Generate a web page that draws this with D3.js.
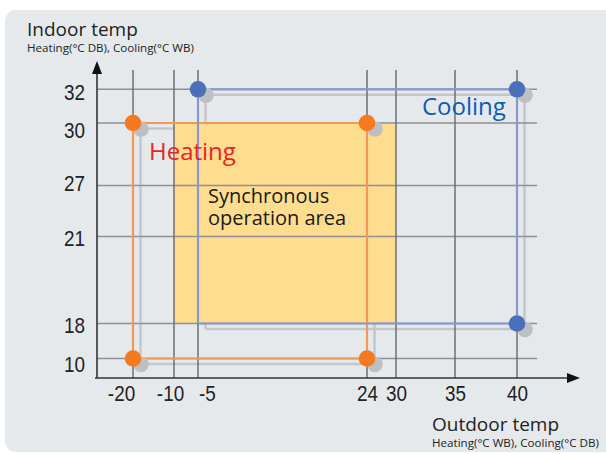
<!DOCTYPE html>
<html>
<head>
<meta charset="utf-8">
<script src="https://cdn.jsdelivr.net/npm/d3@7"></script>
<style>
  html, body { margin: 0; padding: 0; background: #ffffff; }
  svg { display: block; }
  .tick text { font-family: "Liberation Sans", "DejaVu Sans", sans-serif; }
  .lbl { font-family: "Open Sans", "Noto Sans", sans-serif; }
</style>
</head>
<body>
<svg id="chart" width="606" height="454"></svg>
<script>
// Axis tick values (outdoor temp on x, indoor temp on y)
const xTicks = [-20, -10, -5, 24, 30, 35, 40];
const yTicks = [10, 18, 21, 27, 30, 32];

// Operating ranges: [xMin, xMax] outdoor, [yMin, yMax] indoor
const heatingX = [-20, 24];
const heatingY = [10, 30];
const coolingX = [-5, 40];
const coolingY = [18, 32];
const syncX = [-10, 30];
const syncY = [18, 30];

// Corner points marked on each range
const heatingCorners = [[-20, 30], [24, 30], [-20, 10], [24, 10]];
const coolingCorners = [[-5, 32], [40, 32], [40, 18]];

const svg = d3.select("#chart");

// Panel background
svg.append("rect")
  .attr("x", 5).attr("y", 10).attr("width", 612).attr("height", 442)
  .attr("rx", 11).attr("fill", "#e6e9ec");

// Piecewise (non-uniform) scales: ticks are spaced for readability, not linearly
const x = d3.scaleLinear()
  .domain(xTicks)
  .range([133, 174, 198, 367, 396, 455, 517]);
const y = d3.scaleLinear()
  .domain(yTicks)
  .range([358.5, 323.5, 236.5, 185.5, 123, 89.3]);

const x0 = 97, y0 = 378;        // axis origin
const gridTop = 70, gridRight = 537;
const shadow = [7.5, 5.5];      // drop-shadow offset of range outlines
const dotShadow = [8, 6];

const rectPath = (xs, ys) => {
  const l = x(xs[0]), r = x(xs[1]), t = y(ys[1]), b = y(ys[0]);
  return `M${l},${t}H${r}V${b}H${l}Z`;
};
const coolPath = (xs, ys) => {
  const l = x(xs[0]), r = x(xs[1]), t = y(ys[1]), b = y(ys[0]);
  return `M${l},${b}V${t}H${r}V${b}H${l}`;
};

// Shadows of the range outlines
const sh = svg.append("g").attr("transform", `translate(${shadow[0]},${shadow[1]})`)
  .attr("fill", "none").attr("stroke", "#c3c6ca").attr("stroke-width", 2.5);
sh.append("path").attr("d", rectPath(heatingX, heatingY));
sh.append("path").attr("d", coolPath(coolingX, coolingY));

// Synchronous operation area
svg.append("rect")
  .attr("x", x(syncX[0])).attr("y", y(syncY[1]))
  .attr("width", x(syncX[1]) - x(syncX[0]))
  .attr("height", y(syncY[0]) - y(syncY[1]))
  .attr("fill", "#fedd8f");

// Grid lines
svg.append("g").selectAll("line").data(yTicks).join("line")
  .attr("x1", x0).attr("x2", gridRight)
  .attr("y1", d => y(d)).attr("y2", d => y(d))
  .attr("stroke", "#8e9094").attr("stroke-width", 1.6);
svg.append("g").selectAll("line").data(xTicks).join("line")
  .attr("x1", d => x(d)).attr("x2", d => x(d))
  .attr("y1", gridTop).attr("y2", y0)
  .attr("stroke", "#66686b").attr("stroke-width", 1.4);

// Range outlines
svg.append("path").attr("d", rectPath(heatingX, heatingY))
  .attr("fill", "none").attr("stroke", "#f09a55").attr("stroke-width", 2.2);
svg.append("path").attr("d", coolPath(coolingX, coolingY))
  .attr("fill", "none").attr("stroke", "#8798cc").attr("stroke-width", 2.2);

// Corner markers with shadows
const allCorners = heatingCorners.map(d => ({p: d, c: "#f47920"}))
  .concat(coolingCorners.map(d => ({p: d, c: "#4a70bc"})));
svg.append("g").selectAll("circle").data(allCorners).join("circle")
  .attr("cx", d => x(d.p[0]) + dotShadow[0])
  .attr("cy", d => y(d.p[1]) + dotShadow[1])
  .attr("r", 7.8).attr("fill", "#bdbfc2");
svg.append("g").selectAll("circle").data(allCorners).join("circle")
  .attr("cx", d => x(d.p[0]))
  .attr("cy", d => y(d.p[1]))
  .attr("r", 8.3).attr("fill", d => d.c);

// Narrow the tick digits to a condensed look
const condense = sel => sel.each(function () {
  const w = this.getComputedTextLength();
  d3.select(this).attr("textLength", w * 0.84).attr("lengthAdjust", "spacingAndGlyphs");
});

// Axes with tick labels
const xLabelNudge = {"-20": -12, "-10": -4, "-5": 9};
const xAxis = d3.axisBottom(x).tickValues(xTicks).tickSize(0).tickPadding(7)
  .tickFormat(d => String(d));
const gx = svg.append("g").attr("transform", `translate(0,${y0})`).call(xAxis);
gx.select(".domain").remove();
gx.selectAll(".tick text")
  .attr("font-size", 22.5).attr("fill", "#222")
  .attr("dx", d => xLabelNudge[d] || 0)
  .call(condense);

const yLabelNudge = {"32": 2.5, "30": 7, "27": -2.5, "21": 1.5, "18": 1.5, "10": 5.5};
const yAxis = d3.axisLeft(y).tickValues(yTicks).tickSize(0).tickPadding(12);
const gy = svg.append("g").attr("transform", `translate(${x0},0)`).call(yAxis);
gy.select(".domain").remove();
gy.selectAll(".tick text")
  .attr("font-size", 22.5).attr("fill", "#222")
  .attr("dy", d => (0.35 * 22.5 + (yLabelNudge[d] || 0)) + "px")
  .call(condense);

// Axis lines with arrowheads
svg.append("line").attr("x1", x0).attr("x2", x0).attr("y1", y0).attr("y2", 72)
  .attr("stroke", "#333").attr("stroke-width", 1.6);
svg.append("path").attr("d", `M${x0},61L${x0 - 5},74L${x0 + 5},74Z`).attr("fill", "#111");
svg.append("line").attr("x1", 95).attr("x2", 568).attr("y1", y0).attr("y2", y0)
  .attr("stroke", "#333").attr("stroke-width", 1.6);
svg.append("path").attr("d", `M580,${y0}L567,${y0 - 5}L567,${y0 + 5}Z`).attr("fill", "#111");

// Labels: each block is one text element, with extra lines as tspans
const block = (lines, px, py, color) => {
  const t = svg.append("text").attr("class", "lbl")
    .attr("x", px).attr("y", py).attr("fill", color);
  lines.forEach((ln, i) => {
    t.append("tspan")
      .attr("x", px)
      .attr("dy", i === 0 ? 0 : ln.gap)
      .attr("font-size", ln.size)
      .text(ln.text);
  });
  return t;
};

block([{text: "Indoor temp", size: 19},
       {text: "Heating(°C DB), Cooling(°C WB)", size: 11.6, gap: 15.5}], 27, 36, "#222");
block([{text: "Outdoor temp", size: 19},
       {text: "Heating(°C WB), Cooling(°C DB)", size: 11.6, gap: 15.5}], 432, 431, "#222");
block([{text: "Heating", size: 24}], 149, 160, "#e8232b");
block([{text: "Cooling", size: 24}], 422, 115, "#0b5db2");
block([{text: "Synchronous", size: 20},
       {text: "operation area", size: 20, gap: 22}], 208, 203, "#1a1a1a");
</script>
</body>
</html>
